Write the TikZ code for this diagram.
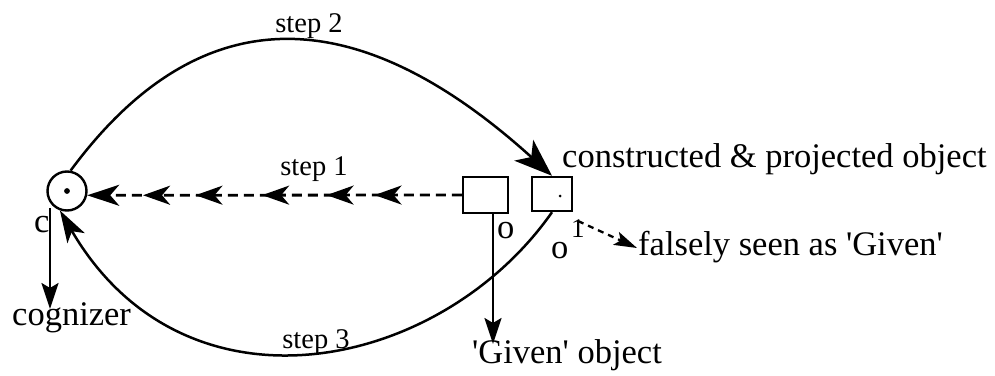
\documentclass[tikz,border=0pt]{standalone}
\usepackage{fontspec}
\setmainfont{Liberation Serif}
\usetikzlibrary{arrows.meta,decorations.markings}
\tikzset{dtip/.tip={Stealth[length=27pt,width=19pt,inset=8pt]}}
\begin{document}
\begin{tikzpicture}[x=1pt,y=-1pt,
  lbl/.style={font=\fontsize{34.5}{40}\selectfont, inner sep=0pt, anchor=base west},
  steplbl/.style={font=\fontsize{28.5}{34}\selectfont, inner sep=0pt, anchor=base},
  objbox/.style={draw, line width=2.4pt, inner sep=0pt},
  curve/.style={line width=2.5pt},
  bigtip/.style={-{Stealth[length=38pt,width=28pt,inset=10pt]}},
  stepone/.style={line width=2.8pt, dash pattern=on 10pt off 6pt},
  downarrow/.style={line width=2.6pt, -{Stealth[length=26pt,width=17pt,inset=5pt]}}
]
\useasboundingbox (0,0) rectangle (995,375);

% nodes
\node[draw, circle, line width=2.4pt, minimum size=39pt, inner sep=0pt] (c) at (67,191) {};
\fill (c.center) circle (2.9pt);
\node[objbox, minimum width=45pt, minimum height=36pt] (o) at (485.5,195) {};
\node[objbox, minimum width=40pt, minimum height=34pt] (o1) at (552,194) {};
\fill (560,196) circle (1.5pt);

% labels
\node[lbl] (cons) at (562,167) {constructed \& projected object};
\node[lbl] (fals) at (638,255) {falsely seen as \textquotesingle Given\textquotesingle};
\node[lbl] (given) at (472,363) {\textquotesingle Given\textquotesingle{} object};
\node[lbl] (cog) at (12,325) {cognizer};
\node[lbl] (clbl) at (34,232) {c};
\node[lbl] (olbl) at (497,238) {o};
\node[lbl] (o1lbl) at (551,258) {o};
\node[font=\fontsize{27}{30}\selectfont, inner sep=0pt, anchor=base west] (sup) at (571,237) {1};
\node[steplbl] (s1) at (314,175) {step 1};
\node[steplbl] (s2) at (309,32) {step 2};
\node[steplbl] (s3) at (316,348) {step 3};

% step 1
\draw[stepone, -{Stealth[length=32pt,width=21pt,inset=9pt]},
  postaction={decorate},
  decoration={markings,
    mark=at position 0.233 with {\arrow{dtip}},
    mark=at position 0.361 with {\arrow{dtip}},
    mark=at position 0.533 with {\arrow{dtip}},
    mark=at position 0.711 with {\arrow{dtip}},
    mark=at position 0.851 with {\arrow{dtip}}}]
  (o.west) -- (c.-12);

% step 2
\draw[curve, bigtip] (c.80) .. controls (215,-25) and (380,20) .. (o1.north);

% step 3
\draw[curve, -{Stealth[length=32pt,width=20pt,inset=8pt]}] (o1.south) .. controls (440,372) and (185,425) .. (c.250);

% cognizer arrow
\coordinate (cs) at (50,208);
\coordinate (ce) at (50,309);
\draw[downarrow] (cs) -- (ce);

% given arrow
\coordinate (gs) at (493,213);
\coordinate (ge) at (493,344);
\draw[downarrow] (gs) -- (ge);

% falsely arrow
\coordinate (fs) at (578,221);
\coordinate (fe) at (637,248);
\draw[line width=2.3pt, dash pattern=on 6pt off 5pt, -{Stealth[length=23pt,width=14pt,inset=5pt]}] (fs) -- (fe);
\end{tikzpicture}
\end{document}
